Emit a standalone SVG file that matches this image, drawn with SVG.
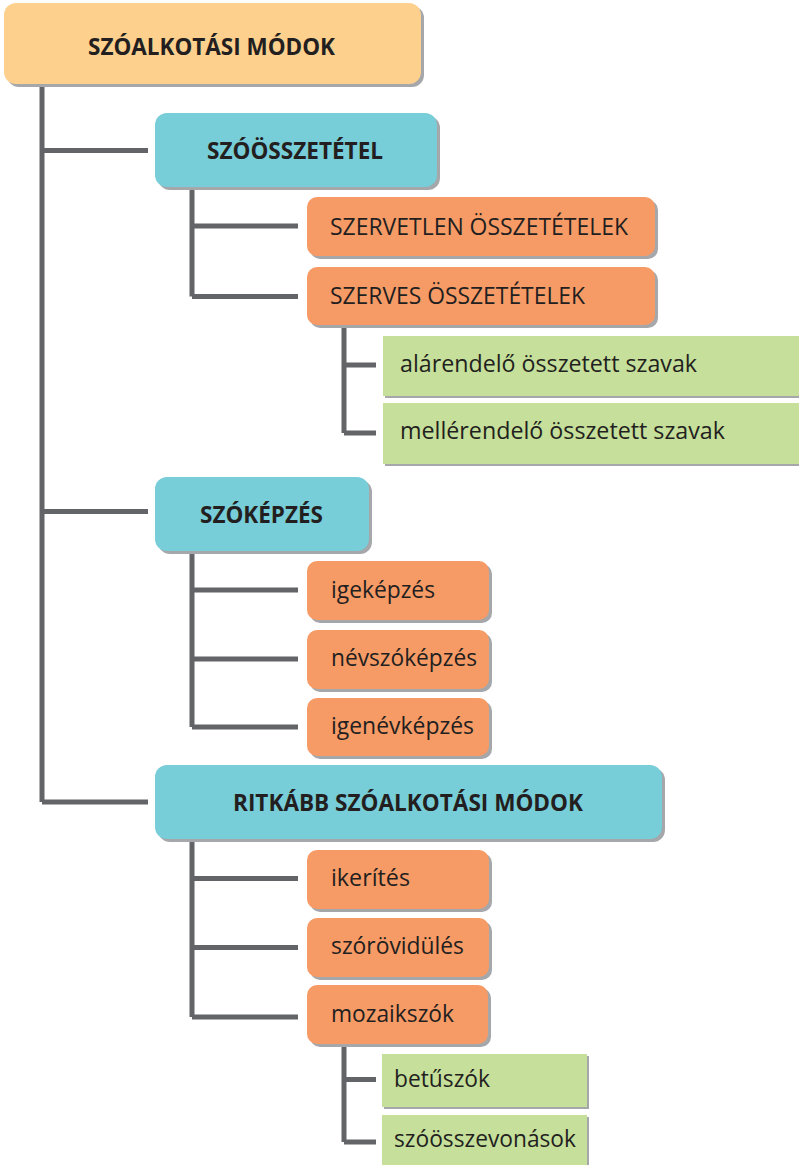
<svg xmlns="http://www.w3.org/2000/svg" width="799" height="1165" viewBox="0 0 799 1165">
<defs>
<style>
.sh{fill:#A5A7AA}
.root{fill:#FDD08D}
.teal{fill:#77CDD8}
.orange{fill:#F79B66}
.green{fill:#C6DF9A}
.b{font-family:"Open Sans","Liberation Sans",sans-serif;font-weight:bold;font-size:23px;fill:#231F20}
.n{font-family:"Open Sans","Liberation Sans",sans-serif;font-size:24px;fill:#231F20}
.ln{stroke:#636467;stroke-width:5;fill:none;stroke-linejoin:miter;stroke-linecap:butt}
</style>
</defs>
<rect width="799" height="1165" fill="#FFFFFF"/>
<g id="connectors">
<path class="ln" d="M42 86 V802 M42 150.5 H148 M42 511.5 H148 M42 802 H148"/>
<path class="ln" d="M192 188 V296.5 M192 226 H298 M192 296.5 H298"/>
<path class="ln" d="M344 327 V433 M344 365 H376 M344 433 H376"/>
<path class="ln" d="M192 552 V727 M192 590 H298 M192 659 H298 M192 727 H298"/>
<path class="ln" d="M192 840 V1017 M192 878.5 H298 M192 947.5 H298 M192 1017 H298"/>
<path class="ln" d="M344 1045 V1142 M344 1079.5 H376 M344 1142 H376"/>
</g>
<g id="n-root">
<rect class="sh" x="7" y="6" width="417" height="81" rx="12"/>
<rect class="root" x="4" y="3" width="417" height="81" rx="12"/>
<text class="b" x="88" y="55" textLength="247" lengthAdjust="spacingAndGlyphs">SZÓALKOTÁSI MÓDOK</text>
</g>
<g id="n-szoosszetetel">
<rect class="sh" x="158" y="116" width="282" height="74" rx="12"/>
<rect class="teal" x="155" y="113" width="282" height="74" rx="12"/>
<text class="b" x="207" y="158.5" textLength="176" lengthAdjust="spacingAndGlyphs">SZÓÖSSZETÉTEL</text>
</g>
<g id="n-szervetlen">
<rect class="sh" x="310" y="200" width="348" height="59" rx="10"/>
<rect class="orange" x="307" y="197" width="348" height="59" rx="10"/>
<text class="n" x="330" y="234.5" textLength="298" lengthAdjust="spacingAndGlyphs">SZERVETLEN ÖSSZETÉTELEK</text>
</g>
<g id="n-szerves">
<rect class="sh" x="310" y="270" width="348" height="58" rx="10"/>
<rect class="orange" x="307" y="267" width="348" height="58" rx="10"/>
<text class="n" x="330" y="303.5" textLength="255" lengthAdjust="spacingAndGlyphs">SZERVES ÖSSZETÉTELEK</text>
</g>
<g id="n-alarendelo">
<rect class="sh" x="385" y="338" width="420" height="60"/>
<rect class="green" x="383" y="336" width="420" height="60"/>
<text class="n" x="400" y="372" textLength="297" lengthAdjust="spacingAndGlyphs">alárendelő összetett szavak</text>
</g>
<g id="n-mellerendelo">
<rect class="sh" x="385" y="405" width="420" height="61"/>
<rect class="green" x="383" y="403" width="420" height="61"/>
<text class="n" x="400" y="439" textLength="325" lengthAdjust="spacingAndGlyphs">mellérendelő összetett szavak</text>
</g>
<g id="n-szokepzes">
<rect class="sh" x="158" y="480" width="214" height="74" rx="12"/>
<rect class="teal" x="155" y="477" width="214" height="74" rx="12"/>
<text class="b" x="200" y="522.5" textLength="123" lengthAdjust="spacingAndGlyphs">SZÓKÉPZÉS</text>
</g>
<g id="n-igekepzes">
<rect class="sh" x="310" y="564" width="182" height="59" rx="10"/>
<rect class="orange" x="307" y="561" width="182" height="59" rx="10"/>
<text class="n" x="331" y="598" textLength="104" lengthAdjust="spacingAndGlyphs">igeképzés</text>
</g>
<g id="n-nevszokepzes">
<rect class="sh" x="310" y="633" width="182" height="59" rx="10"/>
<rect class="orange" x="307" y="630" width="182" height="59" rx="10"/>
<text class="n" x="331" y="666" textLength="146" lengthAdjust="spacingAndGlyphs">névszóképzés</text>
</g>
<g id="n-igenevkepzes">
<rect class="sh" x="310" y="701" width="182" height="58" rx="10"/>
<rect class="orange" x="307" y="698" width="182" height="58" rx="10"/>
<text class="n" x="331" y="734" textLength="143" lengthAdjust="spacingAndGlyphs">igenévképzés</text>
</g>
<g id="n-ritkabb">
<rect class="sh" x="158" y="768" width="507" height="74" rx="12"/>
<rect class="teal" x="155" y="765" width="507" height="74" rx="12"/>
<text class="b" x="233" y="811" textLength="350" lengthAdjust="spacingAndGlyphs">RITKÁBB SZÓALKOTÁSI MÓDOK</text>
</g>
<g id="n-ikerites">
<rect class="sh" x="310" y="853" width="182" height="59" rx="10"/>
<rect class="orange" x="307" y="850" width="182" height="59" rx="10"/>
<text class="n" x="331" y="886" textLength="79" lengthAdjust="spacingAndGlyphs">ikerítés</text>
</g>
<g id="n-szorovidules">
<rect class="sh" x="310" y="921" width="182" height="59" rx="10"/>
<rect class="orange" x="307" y="918" width="182" height="59" rx="10"/>
<text class="n" x="331" y="954" textLength="133" lengthAdjust="spacingAndGlyphs">szórövidülés</text>
</g>
<g id="n-mozaikszok">
<rect class="sh" x="310" y="988" width="181" height="59" rx="10"/>
<rect class="orange" x="307" y="985" width="181" height="59" rx="10"/>
<text class="n" x="331" y="1022" textLength="123" lengthAdjust="spacingAndGlyphs">mozaikszók</text>
</g>
<g id="n-betuszok">
<rect class="sh" x="384" y="1056" width="205" height="53"/>
<rect class="green" x="382" y="1054" width="205" height="53"/>
<text class="n" x="394" y="1087" textLength="96" lengthAdjust="spacingAndGlyphs">betűszók</text>
</g>
<g id="n-szoosszevonasok">
<rect class="sh" x="384" y="1117" width="205" height="55"/>
<rect class="green" x="382" y="1115" width="205" height="55"/>
<text class="n" x="394" y="1147" textLength="182" lengthAdjust="spacingAndGlyphs">szóösszevonások</text>
</g>
</svg>
